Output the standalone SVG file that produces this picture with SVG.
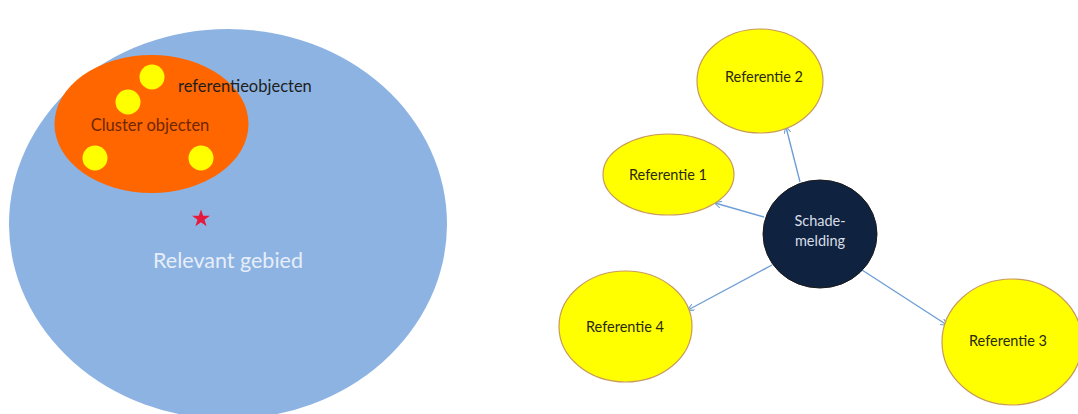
<svg xmlns="http://www.w3.org/2000/svg" width="1078" height="414" viewBox="0 0 1078 414">
<style>
.ref{fill:#ffff00;stroke:#c99a5a;stroke-width:1.2}
.dot{fill:#ffff00}
.lbl{font-family:Lato,"Liberation Sans",sans-serif;font-size:14.5px;fill:#2a2a10;text-anchor:middle}
.conn{stroke:#6f9fd6;stroke-width:1.4;fill:none;marker-end:url(#ah)}
</style>
<defs>
<marker id="ah" viewBox="0 0 10 10" refX="9" refY="5" markerWidth="7" markerHeight="7" orient="auto" markerUnits="userSpaceOnUse">
<path d="M0,0 L10,5 L0,10" fill="none" stroke="#6f9fd6" stroke-width="1.5"/>
</marker>
</defs>
<rect width="1078" height="414" fill="#ffffff"/>
<g id="relevant-gebied">
<ellipse cx="228" cy="224" rx="219" ry="195" fill="#8db3e2"/>
<text x="228" y="268" font-family="Lato,'Liberation Sans',sans-serif" font-size="21.5" fill="#e6eef9" text-anchor="middle">Relevant gebied</text>
</g>
<g id="cluster">
<ellipse cx="151.5" cy="124" rx="97" ry="69" fill="#ff6600"/>
<text x="150" y="131" font-family="Lato,'Liberation Sans',sans-serif" font-size="16.5" fill="#6e2600" text-anchor="middle">Cluster objecten</text>
</g>
<g id="referentieobjecten">
<circle class="dot" cx="152" cy="77" r="12.5"/>
<circle class="dot" cx="128" cy="102" r="12.5"/>
<circle class="dot" cx="95" cy="158" r="12.5"/>
<circle class="dot" cx="201" cy="158" r="12.5"/>
<text x="178" y="92" font-family="Lato,'Liberation Sans',sans-serif" font-size="16.5" fill="#1e1e1e">referentieobjecten</text>
</g>
<g id="star">
<polygon fill="#e8183a" points="201,209.5 203.2,215.8 209.9,215.8 204.5,219.8 206.6,226.2 201,222.3 195.4,226.2 197.5,219.8 192.1,215.8 198.8,215.8"/>
</g>
<g id="connectors">
<line class="conn" x1="800" y1="182" x2="786" y2="127"/>
<line class="conn" x1="764" y1="217" x2="715" y2="203"/>
<line class="conn" x1="772" y1="265" x2="688" y2="310"/>
<line class="conn" x1="862" y1="270" x2="947" y2="325"/>
</g>
<g id="referentie2">
<ellipse class="ref" cx="760" cy="81" rx="63" ry="52"/>
<text class="lbl" x="764" y="82">Referentie 2</text>
</g>
<g id="referentie1">
<ellipse class="ref" cx="668.5" cy="174.5" rx="65.5" ry="40.5"/>
<text class="lbl" x="668" y="180">Referentie 1</text>
</g>
<g id="referentie4">
<ellipse class="ref" cx="625.5" cy="326.5" rx="66.5" ry="55.5"/>
<text class="lbl" x="625" y="332">Referentie 4</text>
</g>
<g id="referentie3">
<ellipse class="ref" cx="1012" cy="342" rx="70" ry="63"/>
<text class="lbl" x="1008" y="346">Referentie 3</text>
</g>
<g id="schademelding">
<ellipse cx="820" cy="234" rx="57" ry="54" fill="#0f2340" stroke="#1a1a1a" stroke-width="1"/>
<text x="820" y="226" font-family="Lato,'Liberation Sans',sans-serif" font-size="14.5" fill="#d8dde6" text-anchor="middle">Schade-</text>
<text x="820" y="246" font-family="Lato,'Liberation Sans',sans-serif" font-size="14.5" fill="#d8dde6" text-anchor="middle">melding</text>
</g>
</svg>
